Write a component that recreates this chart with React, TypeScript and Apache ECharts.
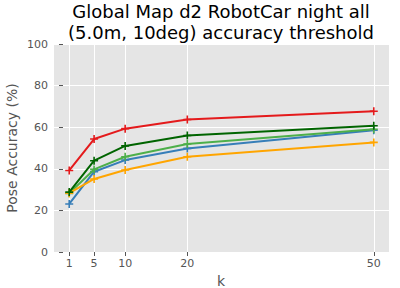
import React, { useEffect, useRef } from "react";
import * as echarts from "echarts";

const kValues = [1, 5, 10, 20, 50];
const seriesNames = ["s1", "s2", "s3", "s4", "s5"];
const blueVals = [23.1, 38.6, 44.2, 49.8, 58.5];
const lightGreenVals = [28.2, 39.7, 45.8, 51.9, 59.0];
const orangeVals = [28.3, 35.1, 39.4, 45.8, 52.7];
const darkGreenVals = [28.8, 43.9, 51.0, 56.0, 60.7];
const redVals = [39.2, 54.3, 59.3, 63.7, 67.7];
const colors = ["#377eb8", "#4daf4a", "#ffa500", "#006400", "#e41a1c"];

const PLUS = "path://M4,0h2v4h4v2h-4v4h-2v-4h-4v-2h4z";

export default function App() {
  const ref = useRef<HTMLDivElement>(null);
  useEffect(() => {
    const chart = echarts.init(ref.current!, null, { renderer: "svg" });
    const all = [blueVals, lightGreenVals, orangeVals, darkGreenVals, redVals];
    const font = "DejaVu Sans";
    chart.setOption({
      animation: false,
      textStyle: { fontFamily: font },
      grid: { left: 54, right: 11, top: 44, bottom: 36, backgroundColor: "#e5e5e5", show: true, borderWidth: 0 },
      xAxis: {
        type: "value",
        min: -1.45,
        max: 52.45,
        axisLine: { show: false },
        axisTick: { show: true, length: 4, lineStyle: { color: "#555" }, customValues: kValues },
        axisLabel: { color: "#555", fontSize: 11, margin: 6, customValues: kValues, fontFamily: font },
        splitLine: { show: true, lineStyle: { color: "#fff", width: 1 } },
      },
      yAxis: {
        type: "value",
        min: 0,
        max: 100,
        interval: 20,
        axisLine: { show: false },
        axisTick: { show: true, length: 4, lineStyle: { color: "#555" } },
        axisLabel: { color: "#555", fontSize: 11, margin: 6, fontFamily: font },
        splitLine: { show: true, lineStyle: { color: "#fff", width: 1 } },
      },
      graphic: [
        {
          type: "text",
          x: 221,
          y: 1,
          style: {
            text: "Global Map d2 RobotCar night all\n(5.0m, 10deg) accuracy threshold",
            fontSize: 18,
            lineHeight: 21,
            fontFamily: font,
            fill: "#000",
            textAlign: "center",
            textVerticalAlign: "top",
          },
        },
        {
          type: "text",
          x: 221,
          y: 281,
          style: { text: "k", fontSize: 14, fontFamily: font, fill: "#555", textAlign: "center", textVerticalAlign: "middle" },
        },
        {
          type: "text",
          x: 12,
          y: 148,
          rotation: Math.PI / 2,
          style: { text: "Pose Accuracy (%)", fontSize: 14, fontFamily: font, fill: "#555", textAlign: "center", textVerticalAlign: "middle" },
        },
      ],
      series: all.map((vals, i) => ({
        name: seriesNames[i],
        type: "line",
        data: kValues.map((k, j) => [k, vals[j]]),
        symbol: PLUS,
        symbolSize: 8,
        showSymbol: true,
        lineStyle: { color: colors[i], width: 2 },
        itemStyle: { color: colors[i] },
        z: 2 + i,
      })),
    });
    return () => chart.dispose();
  }, []);
  return <div ref={ref} style={{ width: 400, height: 288, position: "absolute", left: 0, top: 0 }} />;
}
